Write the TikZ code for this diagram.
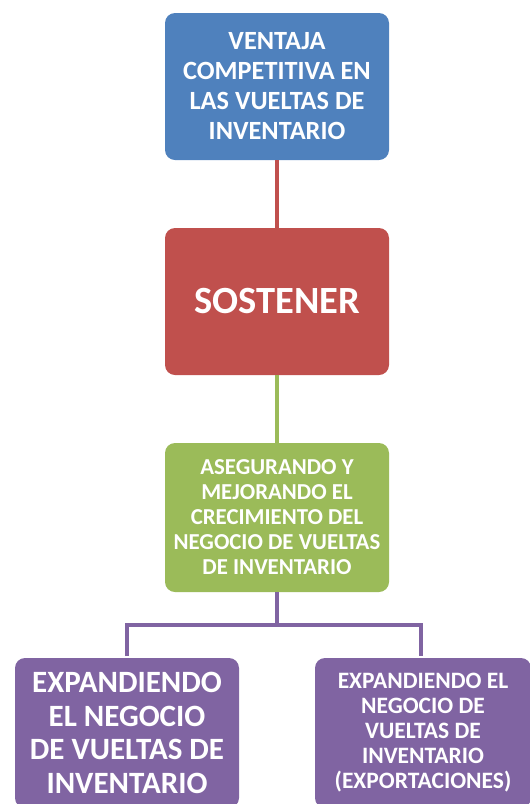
\documentclass[tikz,border=0pt]{standalone}
\usepackage{fontspec}
\setmainfont{Carlito}
\definecolor{cblue}{HTML}{4F81BD}
\definecolor{cred}{HTML}{C0504D}
\definecolor{cgreen}{HTML}{9BBB59}
\definecolor{cpurple}{HTML}{8064A2}
\begin{document}
\begin{tikzpicture}[x=1pt,y=-1pt,
  boxstyle/.style={rounded corners=10pt, inner sep=0pt, outer sep=0pt, align=center, text=white, font=\bfseries},
  linkstyle/.style={line width=3.5pt}]
\useasboundingbox (0,0) rectangle (530,804);
\node[boxstyle, fill=cblue, minimum width=224pt, minimum height=147pt, font=\bfseries\fontsize{26.3}{30}\selectfont] (a) at (277,86.5) {VENTAJA\\COMPETITIVA EN\\LAS VUELTAS DE\\INVENTARIO};
\node[boxstyle, fill=cred, minimum width=224pt, minimum height=147pt, font=\bfseries\fontsize{38.5}{44}\selectfont] (b) at (277,301.5) {SOSTENER};
\node[boxstyle, fill=cgreen, minimum width=224pt, minimum height=149pt, font=\bfseries\fontsize{22.8}{25}\selectfont] (c) at (277,517.5) {ASEGURANDO Y\\MEJORANDO EL\\CRECIMIENTO DEL\\NEGOCIO DE VUELTAS\\DE INVENTARIO};
\node[boxstyle, fill=cpurple, minimum width=224pt, minimum height=150pt, font=\bfseries\fontsize{31}{33.5}\selectfont] (d) at (127,733) {EXPANDIENDO\\EL NEGOCIO\\DE VUELTAS DE\\INVENTARIO};
\node[boxstyle, fill=cpurple, minimum width=216pt, minimum height=150pt, font=\bfseries\fontsize{23.5}{25}\selectfont] (e) at (423,733) {EXPANDIENDO EL\\NEGOCIO DE\\VUELTAS DE\\INVENTARIO\\(EXPORTACIONES)};
\draw[linkstyle, cred] (a.south) -- (b.north);
\draw[linkstyle, cgreen] (b.south) -- (c.north);
\coordinate (j) at (277,625);
\coordinate (jl) at (127,625);
\coordinate (jr) at (421,625);
\coordinate (dl) at (127,656);
\coordinate (er) at (421,656);
\draw[linkstyle, cpurple] (c.south) -- (j);
\draw[linkstyle, cpurple] (dl) -- (jl) -- (jr) -- (er);
\end{tikzpicture}
\end{document}
